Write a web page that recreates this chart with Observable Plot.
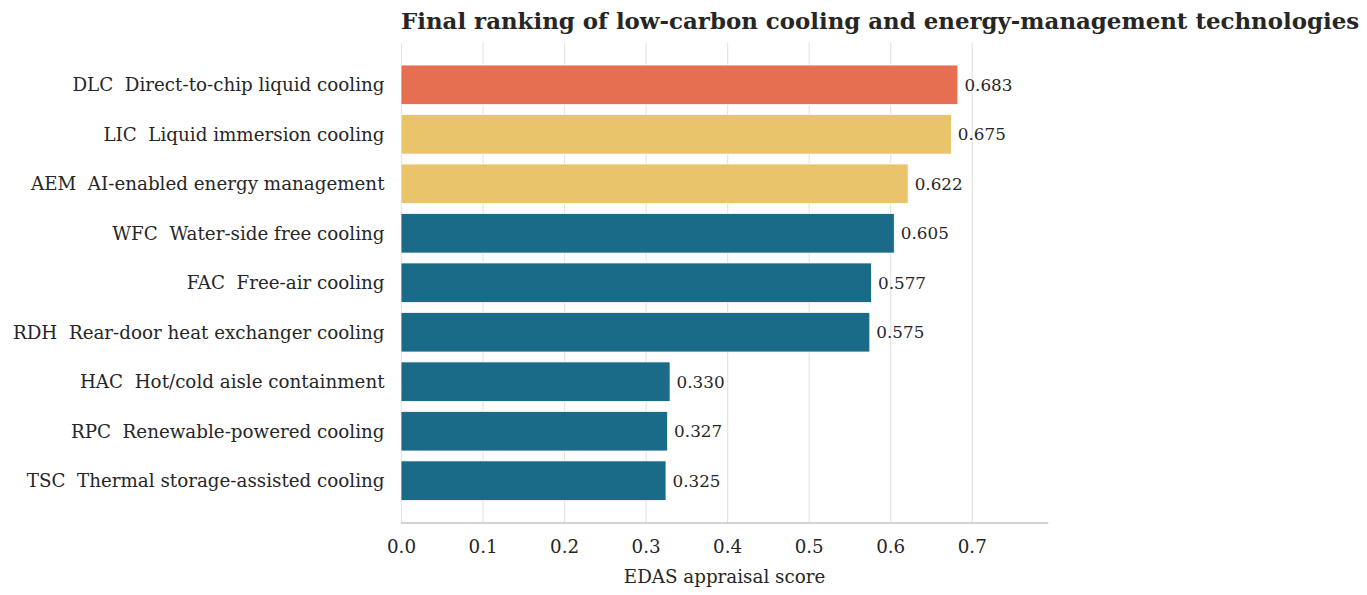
<!DOCTYPE html>
<html>
<head>
<meta charset="utf-8">
<script src="https://cdn.jsdelivr.net/npm/d3@7"></script>
<script src="https://cdn.jsdelivr.net/npm/@observablehq/plot@0.6"></script>
<style>
  body { margin: 0; background: #fff; }
  #wrap { position: relative; width: 1367px; height: 595px; }
  #title { position: absolute; left: 401px; top: 7px; font: bold 22.9px "DejaVu Serif", serif; color: #262626; white-space: nowrap; }
  svg text { white-space: pre; }
</style>
</head>
<body>
<div id="wrap"><div id="title">Final ranking of low-carbon cooling and energy-management technologies</div></div>
<script>
const labels = [
  "DLC  Direct-to-chip liquid cooling",
  "LIC  Liquid immersion cooling",
  "AEM  AI-enabled energy management",
  "WFC  Water-side free cooling",
  "FAC  Free-air cooling",
  "RDH  Rear-door heat exchanger cooling",
  "HAC  Hot/cold aisle containment",
  "RPC  Renewable-powered cooling",
  "TSC  Thermal storage-assisted cooling"
];
const scores = [0.683, 0.675, 0.622, 0.605, 0.577, 0.575, 0.330, 0.327, 0.325];
const tiers = ["top", "high", "high", "rest", "rest", "rest", "rest", "rest", "rest"];
const tierNames = ["top", "high", "rest"];
const tierColors = ["#E76F51", "#E9C46A", "#1A6B87"];
const xTicks = [0, 0.1, 0.2, 0.3, 0.4, 0.5, 0.6, 0.7];

const data = labels.map((l, i) => ({label: l, score: scores[i], tier: tiers[i]}));

const chart = Plot.plot({
  width: 1367,
  height: 595,
  marginTop: 43,
  marginBottom: 72.5,
  marginLeft: 401,
  marginRight: 320,
  style: {fontFamily: "DejaVu Serif", fontSize: "18.3px", color: "#262626", background: "transparent"},
  x: {domain: [0, 0.7923], ticks: xTicks},
  y: {domain: labels, paddingInner: 0.2, paddingOuter: 0.445, round: false},
  color: {domain: tierNames, range: tierColors},
  marks: [
    Plot.gridX(xTicks, {stroke: "#e4e4e4", strokeOpacity: 1, strokeWidth: 1.2}),
    Plot.barX(data, {x: "score", y: "label", fill: "tier", stroke: "white", strokeWidth: 0.8}),
    Plot.text(data, {x: "score", y: "label", text: d => d3.format(".3f")(d.score), dx: 6, textAnchor: "start", fontSize: 16.8, fill: "#262626"}),
    Plot.axisY({tickSize: 0, tickPadding: 17, label: null, fontSize: 18.3}),
    Plot.axisX(xTicks, {tickSize: 0, tickPadding: 17, tickFormat: d3.format(".1f"), fontSize: 18.3,
      label: "EDAS appraisal score", labelAnchor: "center", labelArrow: "none", labelOffset: 60}),
    Plot.frame({anchor: "bottom", stroke: "#c4c4c4", strokeWidth: 1.6})
  ]
});
document.getElementById("wrap").prepend(chart);
chart.style.position = "absolute";
chart.style.left = "0";
chart.style.top = "0";
</script>
</body>
</html>
